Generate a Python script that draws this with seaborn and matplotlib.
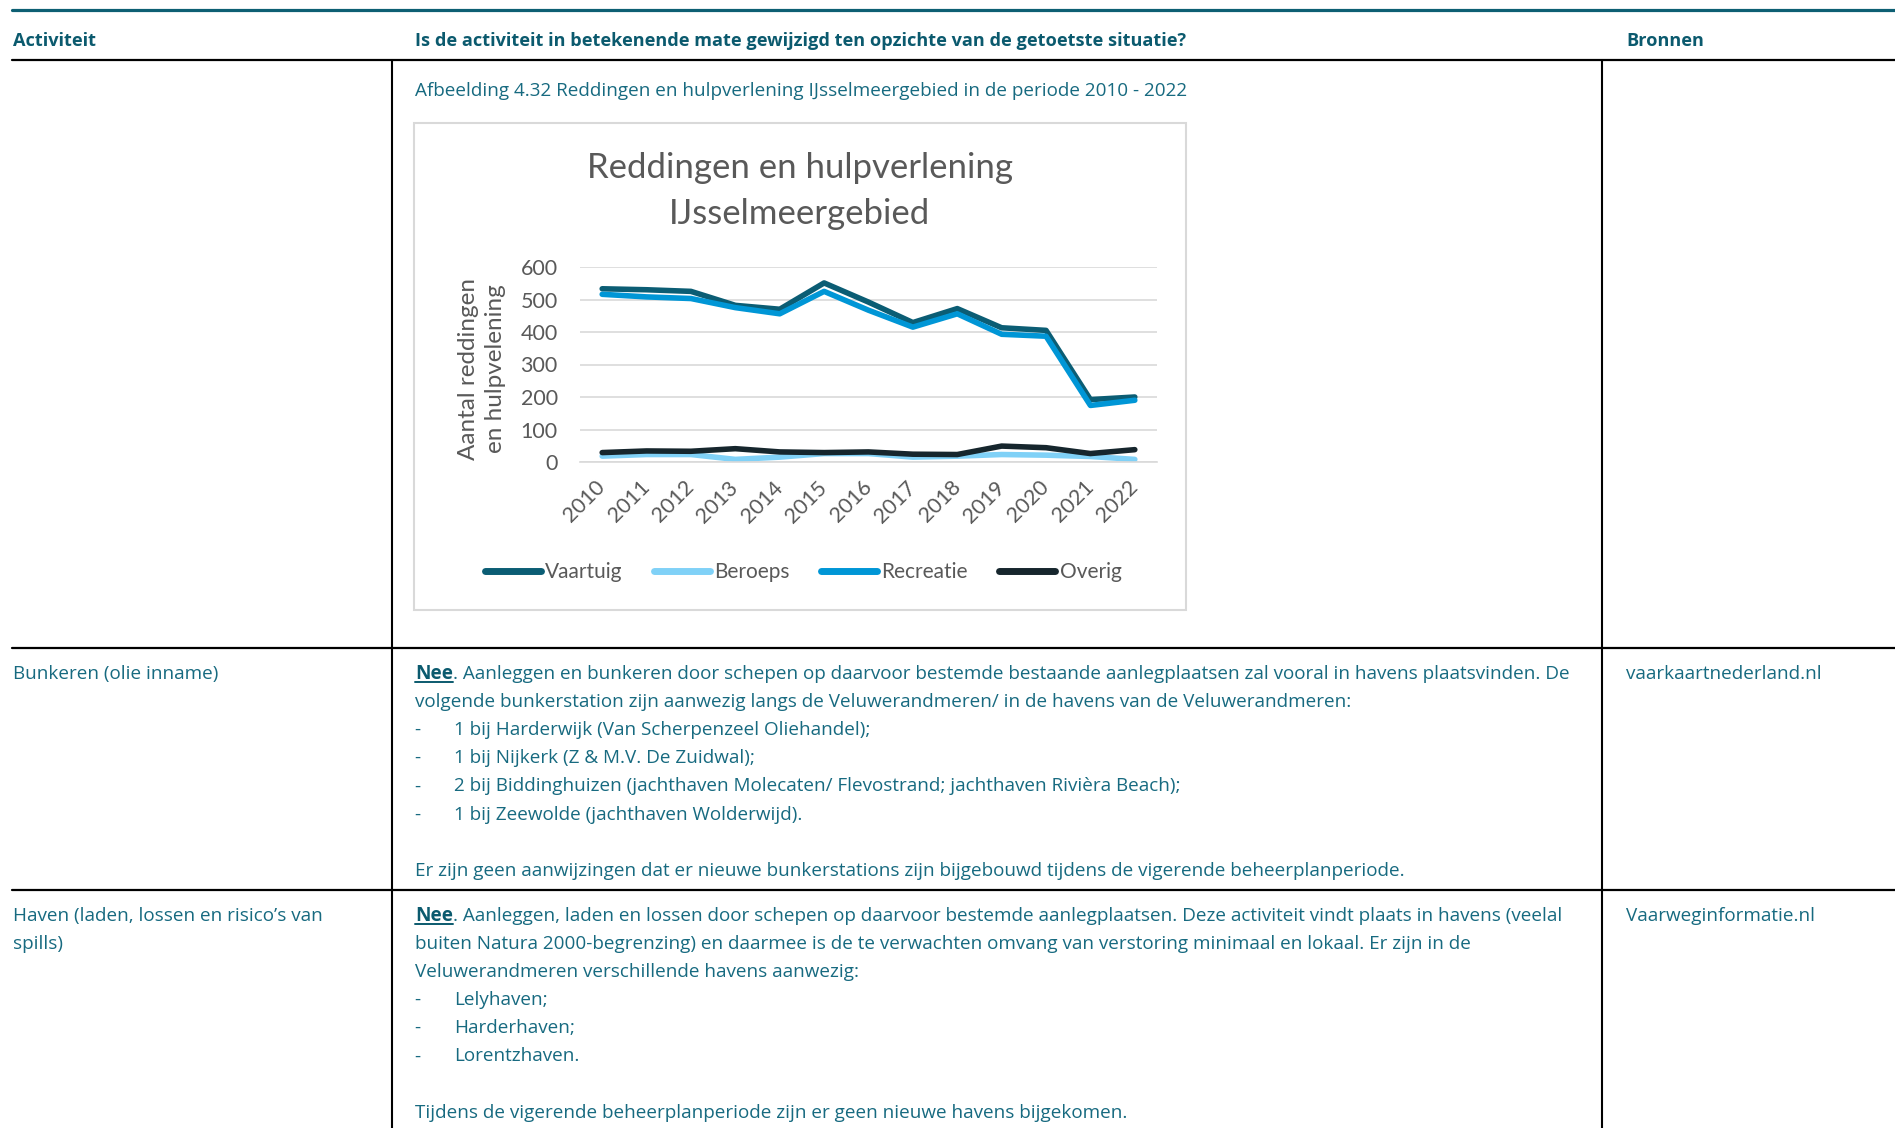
import matplotlib
matplotlib.use("Agg")
import numpy as np
import pandas as pd
import matplotlib.pyplot as plt
import seaborn as sns
from matplotlib.lines import Line2D
from matplotlib.patches import Rectangle

# ── data ──────────────────────────────────────────────────────
years = ["2010", "2011", "2012", "2013", "2014", "2015", "2016",
         "2017", "2018", "2019", "2020", "2021", "2022"]
vaartuig  = [533, 530, 525, 482, 470, 551, 492, 429, 472, 413, 405, 192, 200]
beroeps   = [18, 23, 23, 8, 15, 26, 26, 15, 18, 23, 21, 17, 8]
recreatie = [516, 508, 503, 475, 456, 525, 467, 415, 456, 393, 387, 174, 190]
overig    = [29, 34, 33, 41, 31, 29, 31, 24, 23, 49, 44, 26, 38]
series = ["Vaartuig", "Beroeps", "Recreatie", "Overig"]
colors = {"Vaartuig": "#0b5d74", "Beroeps": "#80d1f7",
          "Recreatie": "#0096d6", "Overig": "#16262d"}
yticks = [0, 100, 200, 300, 400, 500, 600]

df = pd.DataFrame({
    "Jaar": years * 4,
    "Aantal": vaartuig + beroeps + recreatie + overig,
    "Type": [s for s in series for _ in years],
})

# ── figure in pixel coords ────────────────────────────────────
W, H = 1895, 1128
def fx(x): return x / W
def fy(y): return 1 - y / H

sns.set_theme(style="white")
plt.rcParams['font.family'] = ['Open Sans', 'DejaVu Sans']

fig = plt.figure(figsize=(W / 100, H / 100), dpi=100)
fig.patch.set_facecolor("white")
r = fig.canvas.get_renderer()

TEAL = "#176a80"
HEAD = "#0b5a6e"
FS = 13.6

def hline(y, x0, x1, color="black", lw=1.5):
    fig.add_artist(Line2D([fx(x0), fx(x1)], [fy(y), fy(y)],
                          transform=fig.transFigure, color=color, lw=lw))

def vline(x, y0, y1, color="black", lw=1.5):
    fig.add_artist(Line2D([fx(x), fx(x)], [fy(y0), fy(y1)],
                          transform=fig.transFigure, color=color, lw=lw))

def txt(x, y, s, bold=False, color=TEAL, size=FS):
    return fig.text(fx(x), fy(y), s, fontsize=size, color=color, va="baseline",
                    ha="left", fontweight="bold" if bold else "normal")

def nee_line(x, y, rest):
    t = txt(x, y, "Nee", bold=True, color=HEAD)
    bb = t.get_window_extent(r)
    hline(y + 3, x, bb.x1, color=HEAD, lw=1.4)
    txt(bb.x1, y, rest)

# table rules
hline(10, 12, W, color="#0d5f73", lw=2.3)
hline(60, 12, W, lw=1.6)
hline(648, 12, W, lw=1.6)
hline(890, 12, W, lw=1.6)
vline(392, 60, H)
vline(1602, 60, H)

# header
txt(13, 46, "Activiteit", bold=True, color=HEAD, size=13.1)
txt(415, 46, "Is de activiteit in betekenende mate gewijzigd ten opzichte van de getoetste situatie?",
    bold=True, color=HEAD, size=13.1)
txt(1626, 46, "Bronnen", bold=True, color=HEAD, size=13.1)

txt(415, 96, "Afbeelding 4.32 Reddingen en hulpverlening IJsselmeergebied in de periode 2010 - 2022")

# row Bunkeren
txt(13, 679, "Bunkeren (olie inname)")
txt(1626, 679, "vaarkaartnederland.nl")
nee_line(415, 679, ". Aanleggen en bunkeren door schepen op daarvoor bestemde bestaande "
                   "aanlegplaatsen zal vooral in havens plaatsvinden. De")
txt(415, 707, "volgende bunkerstation zijn aanwezig langs de Veluwerandmeren/ in de havens van de Veluwerandmeren:")
for i, item in enumerate(["1 bij Harderwijk (Van Scherpenzeel Oliehandel);",
                          "1 bij Nijkerk (Z & M.V. De Zuidwal);",
                          "2 bij Biddinghuizen (jachthaven Molecaten/ Flevostrand; jachthaven Rivièra Beach);",
                          "1 bij Zeewolde (jachthaven Wolderwijd)."]):
    txt(414, 735 + i * 28.2, "-")
    txt(454, 735 + i * 28.2, item)
txt(415, 876, "Er zijn geen aanwijzingen dat er nieuwe bunkerstations zijn bijgebouwd tijdens de vigerende beheerplanperiode.")

# row Haven
txt(13, 921, "Haven (laden, lossen en risico’s van")
txt(13, 949, "spills)")
txt(1626, 921, "Vaarweginformatie.nl")
nee_line(415, 921, ". Aanleggen, laden en lossen door schepen op daarvoor bestemde aanlegplaatsen. "
                   "Deze activiteit vindt plaats in havens (veelal")
txt(415, 949, "buiten Natura 2000-begrenzing) en daarmee is de te verwachten omvang van verstoring minimaal en lokaal. Er zijn in de")
txt(415, 977, "Veluwerandmeren verschillende havens aanwezig:")
for i, item in enumerate(["Lelyhaven;", "Harderhaven;", "Lorentzhaven."]):
    txt(414, 1005 + i * 28.2, "-")
    txt(454, 1005 + i * 28.2, item)
txt(415, 1118, "Tijdens de vigerende beheerplanperiode zijn er geen nieuwe havens bijgekomen.")

# ── chart ─────────────────────────────────────────────────────
GREY = "#595959"
CF = ["Lato", "DejaVu Sans"]

fig.add_artist(Rectangle((fx(414), fy(610)), fx(1186) - fx(414), fy(123) - fy(610),
                         transform=fig.transFigure, fill=False, ec="#d9d9d9", lw=1.5))

fig.text(fx(800), fy(178), "Reddingen en hulpverlening", ha="center", va="baseline",
         fontsize=25, color=GREY, family=CF)
fig.text(fx(800), fy(224), "IJsselmeergebied", ha="center", va="baseline",
         fontsize=25, color=GREY, family=CF)

ax = fig.add_axes([fx(580), fy(462), (1157 - 580) / W, (462 - 267) / H])
sns.lineplot(data=df, x="Jaar", y="Aantal", hue="Type", hue_order=series,
             palette=colors, linewidth=4, ax=ax, sort=False)
for ln in ax.lines:
    ln.set_solid_capstyle("round")
    ln.set_solid_joinstyle("round")

ax.set_xlim(-0.5, len(years) - 0.5)
ax.set_ylim(0, 600)
ax.set_yticks(yticks)
ax.yaxis.grid(True, color="#d9d9d9", lw=1.2)
ax.xaxis.grid(False)
ax.set_axisbelow(True)
for s in ["top", "right", "left"]:
    ax.spines[s].set_visible(False)
ax.spines["bottom"].set_color("#d9d9d9")
ax.spines["bottom"].set_linewidth(1.2)
ax.set_xlabel("")
ax.set_ylabel("")
ax.tick_params(axis="y", length=0, pad=16, labelsize=15.5, labelcolor=GREY)
ax.tick_params(axis="x", length=0, pad=16, labelsize=15.5, labelcolor=GREY, labelrotation=45)
for lbl in ax.get_xticklabels() + ax.get_yticklabels():
    lbl.set_family(CF)
plt.setp(ax.get_xticklabels(), ha="right", rotation_mode="anchor", va="center")

fig.text(fx(482), fy(369), "Aantal reddingen\nen hulpvelening", rotation=90,
         ha="center", va="center", multialignment="center", linespacing=1.35,
         fontsize=17.5, color=GREY, family=CF)

handles, labels = ax.get_legend_handles_labels()
ax.get_legend().remove()
for h in handles:
    h.set_linewidth(5)
    h.set_solid_capstyle("round")
fig.legend(handles, labels, loc="center", bbox_to_anchor=(fx(803), fy(572)),
           ncol=4, frameon=False, handlelength=2.7, handletextpad=0.2,
           columnspacing=1.5, prop={"family": CF, "size": 15}, labelcolor=GREY)

fig.savefig("out.png", dpi=100)
